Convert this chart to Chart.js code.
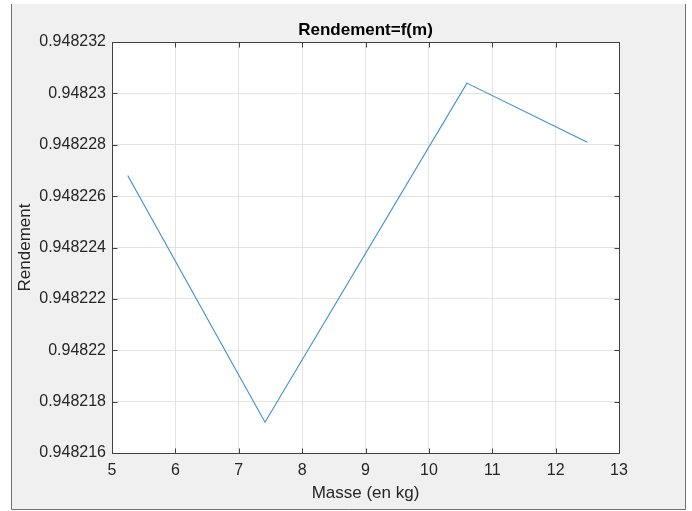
<!DOCTYPE html>
<html>
<head>
<meta charset="utf-8">
<script src="https://cdn.jsdelivr.net/npm/chart.js@4/dist/chart.umd.min.js"></script>
<style>
  html, body { margin: 0; padding: 0; background: #ffffff; }
  #wrap { width: 692px; height: 511px; }
</style>
</head>
<body>
<div id="wrap"><canvas id="c" width="692" height="511"></canvas></div>
<script>
// Efficiency as a function of mass
const masses = [5.248, 7.414, 10.60, 12.50];
const rendements = [0.9482268, 0.9482172, 0.9482304, 0.9482281];
const xTicks = [5, 6, 7, 8, 9, 10, 11, 12, 13];
const yTicks = [0.948216, 0.948218, 0.94822, 0.948222, 0.948224, 0.948226, 0.948228, 0.94823, 0.948232];
const titleText = 'Rendement=f(m)';
const xLabel = 'Masse (en kg)';
const yLabel = 'Rendement';

const FONT = '"Liberation Sans", Arial, Helvetica, sans-serif';
const INK = '#262626';
const AXIS = '#404040';
const GRID = '#e3e3e3';

// Grey figure panel behind the axes
const figurePanel = {
  id: 'figurePanel',
  beforeDraw(chart) {
    const ctx = chart.ctx;
    ctx.save();
    ctx.fillStyle = '#ffffff';
    ctx.fillRect(0, 0, chart.width, chart.height);
    ctx.fillStyle = '#f0f0f0';
    ctx.fillRect(12, 4, 673, 505);
    ctx.strokeStyle = '#707070';
    ctx.lineWidth = 1;
    ctx.beginPath();
    ctx.moveTo(11.5, 4);
    ctx.lineTo(11.5, 509.5);
    ctx.lineTo(685.5, 509.5);
    ctx.lineTo(685.5, 4);
    ctx.stroke();
    const a = chart.chartArea;
    ctx.fillStyle = '#ffffff';
    ctx.fillRect(a.left, a.top, a.right - a.left, a.bottom - a.top);
    ctx.restore();
  }
};

// Axes box, inward tick marks and title
const axesBox = {
  id: 'axesBox',
  afterDatasetsDraw(chart) {
    const ctx = chart.ctx;
    const a = chart.chartArea;
    const xs = chart.scales.x, ys = chart.scales.y;
    const L = Math.round(a.left) + 0.5, R = Math.round(a.right) + 0.5;
    const T = Math.round(a.top) + 0.5, B = Math.round(a.bottom) + 0.5;
    ctx.save();
    ctx.strokeStyle = AXIS;
    ctx.lineWidth = 1;
    ctx.beginPath();
    ctx.rect(L, T, R - L, B - T);
    const tl = 5;
    xTicks.forEach(v => {
      const px = Math.round(xs.getPixelForValue(v)) + 0.5;
      ctx.moveTo(px, B); ctx.lineTo(px, B - tl);
      ctx.moveTo(px, T); ctx.lineTo(px, T + tl);
    });
    yTicks.forEach(v => {
      const py = Math.round(ys.getPixelForValue(v)) + 0.5;
      ctx.moveTo(L, py); ctx.lineTo(L + tl, py);
      ctx.moveTo(R, py); ctx.lineTo(R - tl, py);
    });
    ctx.stroke();
    ctx.fillStyle = '#000000';
    ctx.font = 'bold 17px ' + FONT;
    ctx.textAlign = 'center';
    ctx.textBaseline = 'middle';
    ctx.fillText(titleText, (a.left + a.right) / 2, 30);
    ctx.restore();
  }
};

new Chart(document.getElementById('c'), {
  type: 'scatter',
  data: {
    datasets: [{
      data: masses.map((m, i) => ({ x: m, y: rendements[i] })),
      showLine: true,
      borderColor: '#3a8dd0',
      borderWidth: 1.1,
      pointRadius: 0,
      tension: 0,
      fill: false
    }]
  },
  options: {
    responsive: false,
    animation: false,
    layout: { padding: { left: 12, right: 73, top: 42, bottom: 0 } },
    plugins: { legend: { display: false }, tooltip: { enabled: false }, title: { display: false } },
    scales: {
      x: {
        type: 'linear',
        min: 5, max: 13,
        afterBuildTicks: s => { s.ticks = xTicks.map(v => ({ value: v })); },
        afterFit: s => { s.height = 58; },
        grid: { color: GRID, drawTicks: false },
        border: { display: false },
        ticks: {
          padding: 8,
          color: INK,
          font: { family: FONT, size: 16 },
          callback: v => String(v)
        },
        title: {
          display: true,
          text: xLabel,
          color: INK,
          font: { family: FONT, size: 17 },
          padding: { top: 0, bottom: 7 }
        }
      },
      y: {
        type: 'linear',
        min: 0.948216, max: 0.948232,
        afterBuildTicks: s => { s.ticks = yTicks.map(v => ({ value: v })); },
        afterFit: s => { s.width = 100; },
        grid: { color: GRID, drawTicks: false },
        border: { display: false },
        ticks: {
          padding: 6,
          color: INK,
          font: { family: FONT, size: 16 },
          callback: v => String(Number(v.toFixed(6)))
        },
        title: {
          display: true,
          text: yLabel,
          color: INK,
          font: { family: FONT, size: 17 },
          padding: { top: 3, bottom: 0 }
        }
      }
    }
  },
  plugins: [figurePanel, axesBox]
});
</script>
</body>
</html>
